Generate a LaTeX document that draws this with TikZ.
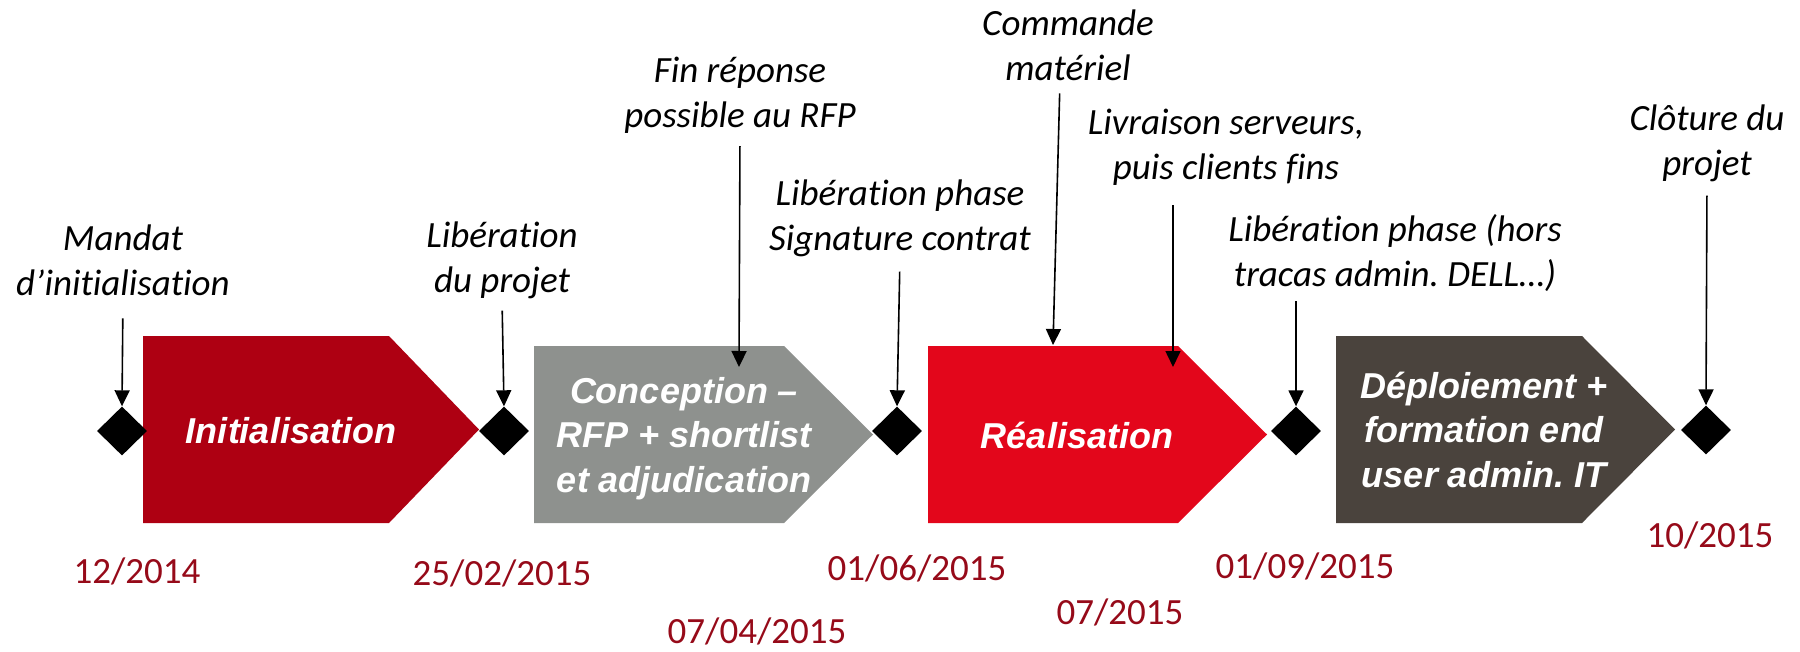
\documentclass[tikz,border=0pt]{standalone}
\usepackage{fontspec}
\setmainfont{Carlito}[Ligatures={TeX,NoCommon}]
\newfontfamily\phasefont{Liberation Sans}
\usetikzlibrary{arrows.meta,shapes.geometric}
\definecolor{initred}{RGB}{174,0,18}
\definecolor{concgray}{RGB}{142,145,142}
\definecolor{realred}{RGB}{227,6,27}
\definecolor{deplbrown}{RGB}{74,67,61}
\definecolor{datered}{RGB}{150,10,25}
\frenchspacing
\begin{document}
\begin{tikzpicture}[x=1pt,y=-1pt,
  jalon/.style={diamond,fill=black,minimum width=50pt,minimum height=49pt,inner sep=0pt},
  callout/.style={align=center,inner sep=0pt,anchor=base,font=\fontsize{37}{45}\selectfont\itshape},
  phasetext/.style={align=center,inner sep=0pt,anchor=base,text=white,font=\phasefont\fontsize{36}{44.5}\selectfont\bfseries\itshape},
  datetext/.style={inner sep=0pt,anchor=base,text=datered,font=\fontsize{37}{45}\selectfont},
  fleche/.style={-{Triangle[length=16pt,width=15pt]},line width=1.6pt,shorten <=13pt}]
\useasboundingbox (0,0) rectangle (1800,651);

\fill[initred] (143,336) -- (389,336) -- (479,429.5) -- (389,523) -- (143,523) -- cycle;
\fill[concgray] (534,346) -- (784,346) -- (873,434.5) -- (784,523) -- (534,523) -- cycle;
\fill[realred] (928,346) -- (1178,346) -- (1267,434.5) -- (1178,523) -- (928,523) -- cycle;
\fill[deplbrown] (1336,336) -- (1582,336) -- (1675,429.5) -- (1582,523) -- (1336,523) -- cycle;

\node[phasetext] (init) at (291,443) {Initialisation};
\node[phasetext] (conc) at (684,492) {Conception –\\RFP + shortlist\\et adjudication};
\node[phasetext] (real) at (1077,448) {Réalisation};
\node[phasetext] (depl) at (1484,487) {Déploiement +\\formation end\\user admin. IT};

\node[jalon] (d1) at (122,431) {};
\node[jalon] (d2) at (504,431) {};
\node[jalon] (d3) at (897,431) {};
\node[jalon] (d4) at (1296,431) {};
\node[jalon] (d5) at (1706,430) {};

\node[callout] (mandat) at (123,295) {Mandat\\d’initialisation};
\node[callout] (libproj) at (502,292) {Libération\\du projet};
\node[callout] (finrep) at (740,127) {Fin réponse\\possible au RFP};
\node[callout] (libsig) at (900,250) {Libération phase\\Signature contrat};
\node[callout] (commande) at (1068,80) {Commande\\matériel};
\node[callout] (livraison) at (1226,179) {Livraison serveurs,\\puis clients fins};
\node[callout] (libhors) at (1395,286) {Libération phase (hors\\tracas admin. DELL…)};
\node[callout] (cloture) at (1707,175) {Clôture du\\projet};

\coordinate (finrep-end) at (739,367);
\coordinate (commande-end) at (1053,345);
\coordinate (livraison-end) at (1173,367);

\draw[fleche,shorten <=23pt] (mandat.south) -- (d1.north);
\draw[fleche,shorten <=12pt] (libproj.south) -- (d2.north);
\draw[fleche] (finrep.south) -- (finrep-end);
\draw[fleche,shorten <=15pt] (libsig.south) -- (d3.north);
\draw[fleche] ([xshift=-8pt]commande.south) -- (commande-end);
\draw[fleche,shorten <=20pt] (livraison.south -| livraison-end) -- (livraison-end);
\draw[fleche,shorten <=10pt] (libhors.south -| d4.north) -- (d4.north);
\draw[fleche,shorten <=14pt] (cloture.south) -- (d5.north);

\node[datetext] (t1) at (137,583) {12/2014};
\node[datetext] (t2) at (502,585) {25/02/2015};
\node[datetext] (t3) at (757,643) {07/04/2015};
\node[datetext] (t4) at (917,580) {01/06/2015};
\node[datetext] (t5) at (1120,624) {07/2015};
\node[datetext] (t6) at (1305,578) {01/09/2015};
\node[datetext] (t7) at (1710,547) {10/2015};
\end{tikzpicture}
\end{document}
